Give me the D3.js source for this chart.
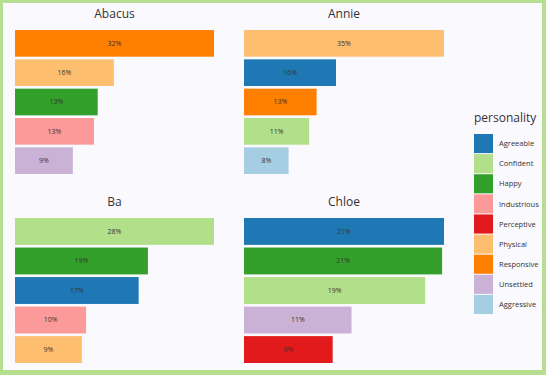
<!DOCTYPE html>
<html>
<head>
<meta charset="utf-8">
<script src="https://cdn.jsdelivr.net/npm/d3@7"></script>
<style>
  html, body { margin: 0; padding: 0; background: #b5df8e; }
  svg { display: block; font-family: "Open Sans", "Noto Sans", sans-serif; }
</style>
</head>
<body>
<svg id="chart" width="546" height="375"></svg>
<script>
// Personality shares per character (percent)
const characters = ['Abacus', 'Annie', 'Ba', 'Chloe'];
const abacusTraits = ['Responsive', 'Physical', 'Happy', 'Industrious', 'Unsettled'];
const abacusValues = [32.0, 15.9, 13.3, 12.7, 9.3];
const annieTraits = ['Physical', 'Agreeable', 'Responsive', 'Confident', 'Aggressive'];
const annieValues = [35.0, 16.1, 12.7, 11.4, 7.8];
const baTraits = ['Confident', 'Happy', 'Agreeable', 'Industrious', 'Physical'];
const baValues = [28.0, 18.7, 17.4, 10.0, 9.4];
const chloeTraits = ['Agreeable', 'Happy', 'Confident', 'Unsettled', 'Perceptive'];
const chloeValues = [21.2, 21.0, 19.2, 11.4, 9.4];

// Legend order
const personalities = ['Agreeable', 'Confident', 'Happy', 'Industrious', 'Perceptive',
  'Physical', 'Responsive', 'Unsettled', 'Aggressive'];
const palette = ['#1f78b4', '#b2df8a', '#33a02c', '#fb9a99', '#e31a1c',
  '#fdbf6f', '#ff7f00', '#cab2d6', '#a6cee3'];

const color = d3.scaleOrdinal().domain(personalities).range(palette);

const panels = [
  { name: characters[0], traits: abacusTraits, values: abacusValues, x: [15, 214], y: [30, 174], titleY: 17.5 },
  { name: characters[1], traits: annieTraits, values: annieValues, x: [244, 444], y: [30, 174], titleY: 17.5 },
  { name: characters[2], traits: baTraits, values: baValues, x: [15, 214], y: [218, 363], titleY: 206 },
  { name: characters[3], traits: chloeTraits, values: chloeValues, x: [244, 444], y: [218, 363], titleY: 206 },
];

const svg = d3.select('#chart');

// Green frame + light plot background
svg.append('rect').attr('width', 546).attr('height', 375).attr('fill', '#b5df8e');
svg.append('rect').attr('x', 3).attr('y', 3).attr('width', 539).attr('height', 367).attr('fill', '#faf9fe');

panels.forEach(p => {
  const data = p.traits.map((t, i) => ({ trait: t, val: p.values[i] }));
  const x = d3.scaleLinear().domain([0, d3.max(p.values)]).range([0, p.x[1] - p.x[0]]);
  const y = d3.scaleBand().domain(d3.range(data.length)).range(p.y).paddingInner(0.09);

  const g = svg.append('g');

  g.append('text')
    .attr('x', (p.x[0] + p.x[1]) / 2)
    .attr('y', p.titleY)
    .attr('text-anchor', 'middle')
    .attr('font-size', '12px')
    .attr('fill', '#333')
    .text(p.name);

  const rows = g.selectAll('g.bar')
    .data(data)
    .join('g')
    .attr('class', 'bar')
    .attr('transform', (_, i) => `translate(${p.x[0]},${y(i)})`);

  rows.append('rect')
    .attr('width', d => x(d.val))
    .attr('height', y.bandwidth())
    .attr('fill', d => color(d.trait));

  rows.append('text')
    .attr('x', d => x(d.val) / 2)
    .attr('y', y.bandwidth() / 2)
    .attr('dy', '0.35em')
    .attr('text-anchor', 'middle')
    .attr('font-size', '7px')
    .attr('fill', '#333')
    .text(d => Math.round(d.val) + '%');
});

// Legend
const legend = svg.append('g').attr('transform', 'translate(474,0)');
legend.append('text')
  .attr('x', 0).attr('y', 122)
  .attr('font-size', '12px')
  .attr('fill', '#333')
  .text('personality');

const ly = d3.scaleBand().domain(personalities).range([134, 314]).paddingInner(0.05);
const items = legend.selectAll('g.item')
  .data(personalities)
  .join('g')
  .attr('class', 'item')
  .attr('transform', d => `translate(0,${ly(d)})`);

items.append('rect')
  .attr('width', 19)
  .attr('height', ly.bandwidth())
  .attr('fill', d => color(d));

items.append('text')
  .attr('x', 25)
  .attr('y', ly.bandwidth() / 2)
  .attr('dy', '0.35em')
  .attr('font-size', '7.5px')
  .attr('fill', '#333')
  .text(d => d);
</script>
</body>
</html>
